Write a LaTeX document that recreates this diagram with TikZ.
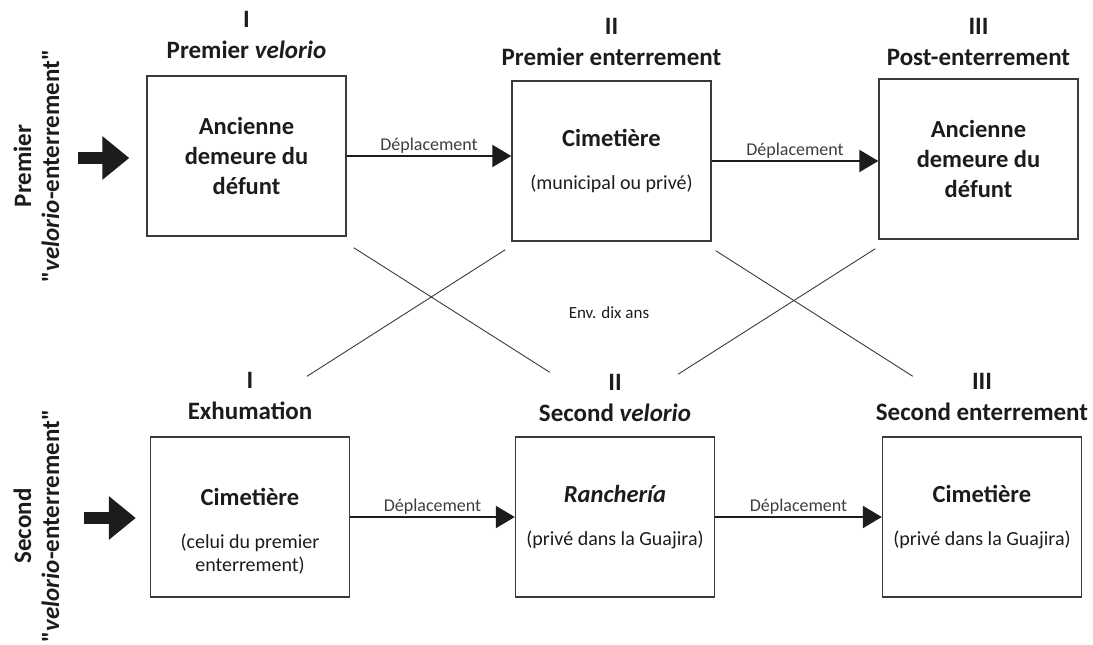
\documentclass[tikz,border=0pt]{standalone}
\usepackage{fontspec}
\setmainfont{Carlito}[Ligatures=TeXOff]
\usetikzlibrary{arrows.meta, positioning, calc}
\usepackage{xcolor}

\definecolor{ink}{HTML}{1C1C1C}
\definecolor{rule}{HTML}{3A3A3A}
\newcommand{\detail}[1]{{\fontsize{20}{24}\selectfont\mdseries #1}}

\begin{document}
\begin{tikzpicture}[
    x=1pt, y=-1pt,
    box/.style={draw=rule, line width=1.4pt, minimum width=199pt,
                minimum height=160pt, inner sep=0pt, align=center, text=ink,
                font=\fontsize{24.5}{30}\selectfont\bfseries},
    stage/.style={align=center, inner sep=0pt, text depth=0pt, text=ink,
                  font=\fontsize{25}{31}\selectfont\bfseries},
    side/.style={rotate=90, align=center, inner sep=0pt, text=ink,
                 font=\fontsize{25}{28}\selectfont\bfseries},
    arr/.style={-{Triangle[length=19pt, width=22pt]}, line width=2.2pt, draw=ink},
    big/.style={-{Triangle[length=27pt, width=42pt]}, line width=12pt, draw=ink},
    move/.style={midway, above, inner sep=1.5pt, text=ink!85,
                 font=\fontsize{18}{20}\selectfont},
    cross/.style={draw=rule, line width=0.9pt},
  ]
  \useasboundingbox (0,0) rectangle (1093,645);

  % Row 1: premier velorio-enterrement
  \node[box] (a1) at (246.5,156) {Ancienne\\demeure du\\défunt};
  \node[box] (a2) at (611.5,161) {Cimetière\\[13pt]\detail{(municipal ou privé)}};
  \node[box] (a3) at (978.5,159) {Ancienne\\demeure du\\défunt};

  % Row 2: second velorio-enterrement
  \node[box] (b1) at (250,517) {{}\\[16pt]Cimetière\\[13pt]\detail{(celui du premier}\\[-7pt]\detail{enterrement)}};
  \node[box] (b2) at (615,517) {\textit{Ranchería}\\[13pt]\detail{(privé dans la Guajira)}};
  \node[box] (b3) at (982,517) {Cimetière\\[13pt]\detail{(privé dans la Guajira)}};

  % Stage titles
  \node[stage, above=17pt of a1] (ta1) {I\\Premier \textit{velorio}};
  \node[stage, above=15pt of a2] (ta2) {II\\Premier enterrement};
  \node[stage, above=13pt of a3] (ta3) {III\\Post-enterrement};
  \node[stage, above=17pt of b1] (tb1) {I\\Exhumation};
  \node[stage, above=15pt of b2] (tb2) {II\\Second \textit{velorio}};
  \node[stage, above=16pt of b3] (tb3) {III\\Second enterrement};

  % Arrows
  \draw[arr] (a1.east) -- (a1.east -| a2.west) node[move] {Déplacement};
  \draw[arr] (a2.east) -- (a2.east -| a3.west) node[move] {Déplacement};
  \draw[arr] (b1.east) -- (b1.east -| b2.west) node[move] {Déplacement};
  \draw[arr] (b2.east) -- (b2.east -| b3.west) node[move] {Déplacement};

  % Crossing lines
  \draw[cross] ($(a1.south east)+(7,11)$) -- ($(b2.north west)+(35,-64)$);
  \draw[cross] ($(a2.south west)+(-6,8)$) -- ($(b1.north)+(57,-60)$);
  \draw[cross] ($(a2.south east)+(4,9)$) -- ($(b3.north west)+(31,-60)$);
  \draw[cross] ($(a3.south west)+(-3,9)$) -- ($(b2.north)+(63,-62)$);
  \node[text=ink, font=\fontsize{17}{20}\selectfont] (gap) at (609,313) {Env. dix ans};

  % Input
  \node[side] (lab1) at (36.5,166) {Premier\\"\textit{velorio}-enterrement"};
  \node[side] (lab2) at (36.5,526) {Second\\"\textit{velorio}-enterrement"};
  \coordinate (in1) at (78,158);
  \coordinate (in2) at (84,518);
  \draw[big, shorten >=17pt] (in1) -- (in1 -| a1.west);
  \draw[big, shorten >=14pt] (in2) -- (in2 -| b1.west);
\end{tikzpicture}
\end{document}
